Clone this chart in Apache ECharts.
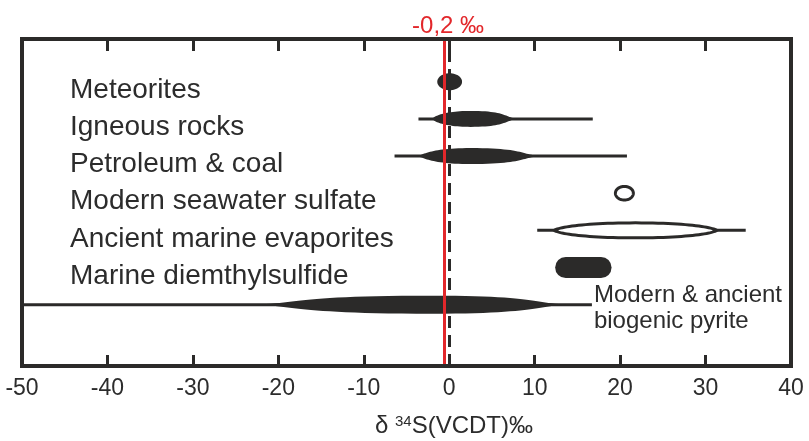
<!DOCTYPE html>
<html><head><meta charset="utf-8">
<script src="https://cdn.jsdelivr.net/npm/echarts@6/dist/echarts.min.js"></script>
<style>html,body{margin:0;padding:0;background:#fff}#c{width:809px;height:441px}</style>
</head><body><div id="c"></div>
<script>
// ---- data ----
const rowLabels = ['Meteorites', 'Igneous rocks', 'Petroleum & coal', 'Modern seawater sulfate',
  'Ancient marine evaporites', 'Marine diemthylsulfide', 'Modern & ancient\nbiogenic pyrite'];
const rowIndex = [1, 2, 3, 4, 5, 6, 7];
const whiskerLow  = [null, -3.6, -6.4, null, 10.3, null, -50];
const whiskerHigh = [null, 16.8, 20.8, null, 34.7, null, 16.7];
const bodyLow  = [-1.4, -2.0, -3.7, 19.45, 12.3, 12.4, -22.6];
const bodyPeak = [0.05, 2.5, 2.5, 20.5, 21.8, 15.7, -2];
const bodyHigh = [1.5, 7.9, 10.5, 21.55, 31.3, 19.0, 13.7];
const xMin = -50, xMax = 40, xStep = 10;
const zeroValue = 0;
const referenceValue = -0.6;
const referenceLabel = '-0,2 ‰';
const axisTitle = '{d|δ }{s|34}{d|S(VCDT)‰}';

// ---- styles ----
const INK = '#2b2a29', TEXT = '#2c2c2c', RED = '#e2272b';
const FONT = '"Liberation Sans", Arial, sans-serif';
const bodyKind = ['fill', 'fill', 'fill', 'open', 'open', 'pill', 'fill'];
const bodyHalfHeight = [8.5, 8, 8, 6.8, 7.5, 10.5, 9];
const bodySharpL = [0, 0.3, 0.6, 0, 0.25, 0, 1];
const bodySharpR = [0, 1, 1, 0, 0.25, 0, 1];
const labelPlacement = ['left', 'left', 'left', 'left', 'left', 'left', 'right'];
const yMin = -0.15, yMax = 8.65;

function cubic(p0, p1, p2, p3, t) {
  const u = 1 - t;
  return [u*u*u*p0[0] + 3*u*u*t*p1[0] + 3*u*t*t*p2[0] + t*t*t*p3[0],
          u*u*u*p0[1] + 3*u*u*t*p1[1] + 3*u*t*t*p2[1] + t*t*t*p3[1]];
}
function lensPoints(x0, xp, x1, yc, h, sl, sr) {
  const dl = xp - x0, dr = x1 - xp, N = 24;
  const P0 = [x0, yc], PM = [xp, yc - h], P3 = [x1, yc];
  const L1 = [x0 + sl * 0.25 * dl, yc - h * (0.552 * (1 - sl) + 0.22 * sl)];
  const L2 = [xp - (0.552 + 0.2 * sl) * dl, yc - h];
  const R1 = [xp + (0.552 + 0.2 * sr) * dr, yc - h];
  const R2 = [x1 - sr * 0.25 * dr, yc - h * (0.552 * (1 - sr) + 0.22 * sr)];
  const top = [];
  for (let k = 0; k <= N; k++) top.push(cubic(P0, L1, L2, PM, k / N));
  for (let k = 1; k <= N; k++) top.push(cubic(PM, R1, R2, P3, k / N));
  const bottom = top.slice(1, -1).reverse().map(p => [p[0], 2 * yc - p[1]]);
  return top.concat(bottom);
}

function renderItem(params, api) {
  const i = params.dataIndex;
  const row = api.value(0);
  const yc = api.coord([0, row])[1];
  const children = [];
  const wl = api.value(1), wh = api.value(2);
  if (!isNaN(wl) && !isNaN(wh)) {
    const a = api.coord([wl, row]), b = api.coord([wh, row]);
    children.push({ type: 'line', shape: { x1: a[0], y1: yc, x2: b[0], y2: yc },
      style: { stroke: INK, lineWidth: 3 } });
  }
  const x0 = api.coord([api.value(3), row])[0];
  const xp = api.coord([api.value(4), row])[0];
  const x1 = api.coord([api.value(5), row])[0];
  const h = bodyHalfHeight[i];
  if (bodyKind[i] === 'pill') {
    children.push({ type: 'rect', shape: { x: x0, y: yc - h, width: x1 - x0, height: 2 * h, r: h },
      style: { fill: INK } });
  } else {
    const pts = lensPoints(x0, xp, x1, yc, h, bodySharpL[i], bodySharpR[i]);
    children.push({ type: 'polygon', shape: { points: pts },
      style: bodyKind[i] === 'open' ? { fill: '#fff', stroke: INK, lineWidth: 3 } : { fill: INK } });
  }
  if (labelPlacement[i] === 'right') {
    const b = api.coord([wh, row]);
    children.push({ type: 'text', x: b[0] + 2, y: yc - 22,
      style: { text: rowLabels[i], fontSize: 24, lineHeight: 26, fill: TEXT, fontFamily: FONT,
        align: 'left', verticalAlign: 'top' } });
  } else {
    const l = api.coord([xMin, row]);
    children.push({ type: 'text', x: l[0] + 48, y: yc + 8.5,
      style: { text: rowLabels[i], fontSize: 28, fill: TEXT, fontFamily: FONT,
        align: 'left', verticalAlign: 'middle' } });
  }
  return { type: 'group', children };
}

const seriesData = rowIndex.map((r, i) => [r,
  whiskerLow[i] == null ? '-' : whiskerLow[i],
  whiskerHigh[i] == null ? '-' : whiskerHigh[i],
  bodyLow[i], bodyPeak[i], bodyHigh[i]]);

const frameLine = { show: true, onZero: false, lineStyle: { color: INK, width: 4, cap: 'square' } };

const chart = echarts.init(document.getElementById('c'), null, { renderer: 'canvas' });
chart.setOption({
  animation: false,
  backgroundColor: '#fff',
  grid: { left: 22, right: 18, top: 39, bottom: 75, outerBoundsMode: 'none', containLabel: false },
  xAxis: [
    { type: 'value', position: 'bottom', min: xMin, max: xMax, interval: xStep, z: 10,
      axisLine: frameLine,
      axisTick: { show: true, inside: true, length: 11, lineStyle: { color: INK, width: 3 } },
      axisLabel: { fontSize: 23, color: TEXT, fontFamily: FONT, margin: 11 },
      splitLine: { show: false },
      name: axisTitle, nameLocation: 'middle', nameGap: 48,
      nameTextStyle: { padding: [0, 0, 0, 95],
        rich: { d: { fontSize: 24, color: TEXT, fontFamily: FONT },
                s: { fontSize: 15, color: TEXT, fontFamily: FONT, verticalAlign: 'top' } } } },
    { type: 'value', position: 'top', min: xMin, max: xMax, interval: xStep, z: 10,
      axisLine: frameLine,
      axisTick: { show: true, inside: true, length: 12, lineStyle: { color: INK, width: 3 } },
      axisLabel: { show: false }, splitLine: { show: false } }
  ],
  yAxis: [
    { type: 'value', position: 'left', inverse: true, min: yMin, max: yMax, z: 10,
      axisLine: frameLine, axisTick: { show: false }, splitLine: { show: false },
      axisLabel: { show: false } },
    { type: 'value', position: 'right', inverse: true, min: yMin, max: yMax, z: 10,
      axisLine: frameLine, axisTick: { show: false }, splitLine: { show: false },
      axisLabel: { show: false } }
  ],
  series: [
    { type: 'line', data: [], z: 1, silent: true,
      markLine: { silent: true, symbol: ['none', 'none'], animation: false,
        label: { show: false },
        lineStyle: { color: INK, width: 3, type: [12, 7] },
        data: [[{ coord: [zeroValue, yMax] }, { coord: [zeroValue, yMin] }]] } },
    { type: 'custom', renderItem, data: seriesData, z: 3, silent: true,
      encode: { x: [1, 2, 3, 4, 5], y: 0 } },
    { type: 'line', data: [], z: 5, silent: true,
      markLine: { silent: true, symbol: ['none', 'none'], animation: false,
        lineStyle: { color: RED, width: 3, type: 'solid' },
        label: { show: true, position: 'end', formatter: referenceLabel, color: RED,
          fontSize: 24, fontFamily: FONT, distance: 2, offset: [4, 1] },
        data: [[{ coord: [referenceValue, yMax] }, { coord: [referenceValue, yMin] }]] } }
  ]
});
</script></body></html>
